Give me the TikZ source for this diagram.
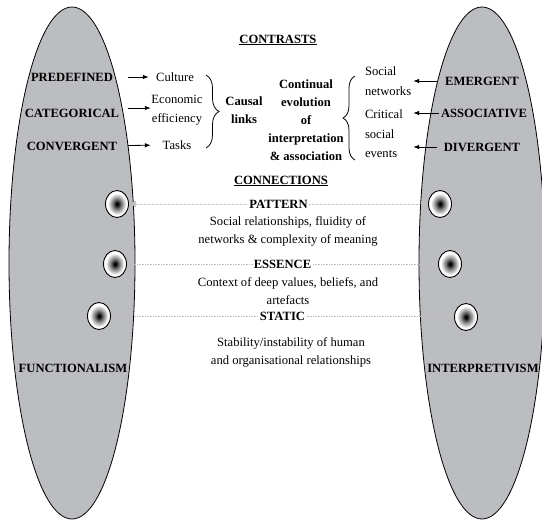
\documentclass[tikz,border=0pt]{standalone}
\usepackage{fontspec}
\setmainfont{Liberation Serif}
\usetikzlibrary{positioning,arrows.meta,shapes.geometric,decorations.pathreplacing}
\definecolor{ovalgray}{RGB}{188,189,192}
\pgfdeclareradialshading{dotshade}{\pgfpoint{0bp}{0bp}}{color(0bp)=(black); color(2bp)=(black); color(9bp)=(black!55); color(20bp)=(white); color(50bp)=(white)}

\begin{document}
\begin{tikzpicture}[x=1pt, y=-1pt, font=\fontsize{12.6}{18}\selectfont,
                    bold node/.style={font=\fontsize{12.6}{18}\selectfont\bfseries},
                    side node/.style={bold node, inner sep=0pt},
                    left node/.style={side node, minimum width=112pt},
                    right node/.style={side node, minimum width=90pt},
                    item node/.style={align=center, text width=52pt, inner sep=0pt,
                                      font=\fontsize{12.6}{19.5}\selectfont},
                    net node/.style={align=left, text width=48pt, inner sep=0pt,
                                     font=\fontsize{12.6}{19.5}\selectfont},
                    dot node/.style={ellipse, draw, line width=0.9pt, minimum width=23pt,
                                     minimum height=27pt, inner sep=0pt, shading=dotshade},
                    desc node/.style={align=center, inner sep=0pt},
                    link label/.style={bold node, fill=white, text=black, inner sep=1pt},
                    arr/.style={-{Latex[length=6pt,width=4.5pt]}, line width=0.8pt},
                    link/.style={gray!50, densely dotted, line width=0.6pt,
                                 {Triangle[length=7pt,width=6pt]}-{Triangle[length=7pt,width=6pt]}},
                    brace/.style={decorate, line width=0.8pt}]

  \useasboundingbox (0,0) rectangle (542,520);

  % the two ovals
  \filldraw[fill=ovalgray, line width=0.8pt] (72,263) ellipse [x radius=63pt, y radius=256pt];
  \filldraw[fill=ovalgray, line width=0.8pt] (482,263) ellipse [x radius=63pt, y radius=256pt];

  % left side
  \node[left node] (pre) at (72,77) {PREDEFINED};
  \node[left node] (cat) at (72,113) {CATEGORICAL};
  \node[left node] (conv) at (72,146) {CONVERGENT};
  \node[side node] (func) at (73,368) {FUNCTIONALISM};

  \node[item node] (cul) at (175,77) {Culture};
  \node[item node] (eco) at (177,110) {Economic\\efficiency};
  \node[item node] (task) at (177,145) {Tasks};

  % right side
  \node[right node] (emer) at (482,81) {EMERGENT};
  \node[right node] (assoc) at (484,113) {ASSOCIATIVE};
  \node[right node] (div) at (482,147) {DIVERGENT};
  \node[side node] (interp) at (483,368) {INTERPRETIVISM};

  \node[net node] (soc) at (389,81) {Social\\networks};
  \node[net node] (crit) at (389,134) {Critical\\social\\events};

  % middle
  \node[bold node] (contr) at (278,40) {\underline{CONTRASTS}};
  \node[bold node, align=center] (causal) at (244,110) {Causal\\links};
  \node[bold node, align=center] (evol) at (306,120)
       {Continual\\evolution\\of\\interpretation\\\& association};
  \node[bold node] (conn) at (281,181) {\underline{CONNECTIONS}};

  \draw[arr] (pre) -- (cul);
  \draw[arr] ([yshift=5pt]cat.east) -- ([yshift=5pt]cat.east -| eco.west);
  \draw[arr] (conv) -- (task);
  \draw[arr] (emer) -- (soc);
  \draw[arr] (assoc.west) -- (assoc.west -| crit.east);
  \draw[arr] (div.west) -- (div.west -| crit.east);

  \draw[brace, decoration={brace, amplitude=13pt}] (206,75) -- (206,148);
  \draw[brace, decoration={brace, amplitude=12pt}] (355,160) -- (355,76);

  % connections
  \node[dot node] (l1) at (117,204) {};
  \node[dot node] (r1) at (440,204) {};
  \node[dot node] (l2) at (115,264) {};
  \node[dot node] (r2) at (450,264) {};
  \node[dot node] (l3) at (99,316) {};
  \node[dot node] (r3) at (466,317) {};

  \draw[link] (l1) -- node[link label] (pat) {PATTERN} (r1);
  \draw[link] (l2) -- node[link label] (ess) {ESSENCE} (r2);
  \draw[link] (l3.east) -- node[link label] (sta) {STATIC} (l3.east -| r3.west);

  \node[desc node] (patd) at (288,231) {Social relationships, fluidity of\\networks \& complexity of meaning};
  \node[desc node] (essd) at (288,291) {Context of deep values, beliefs, and\\artefacts};
  \node[desc node] (stad) at (291,352) {Stability/instability of human\\and organisational relationships};

\end{tikzpicture}
\end{document}
